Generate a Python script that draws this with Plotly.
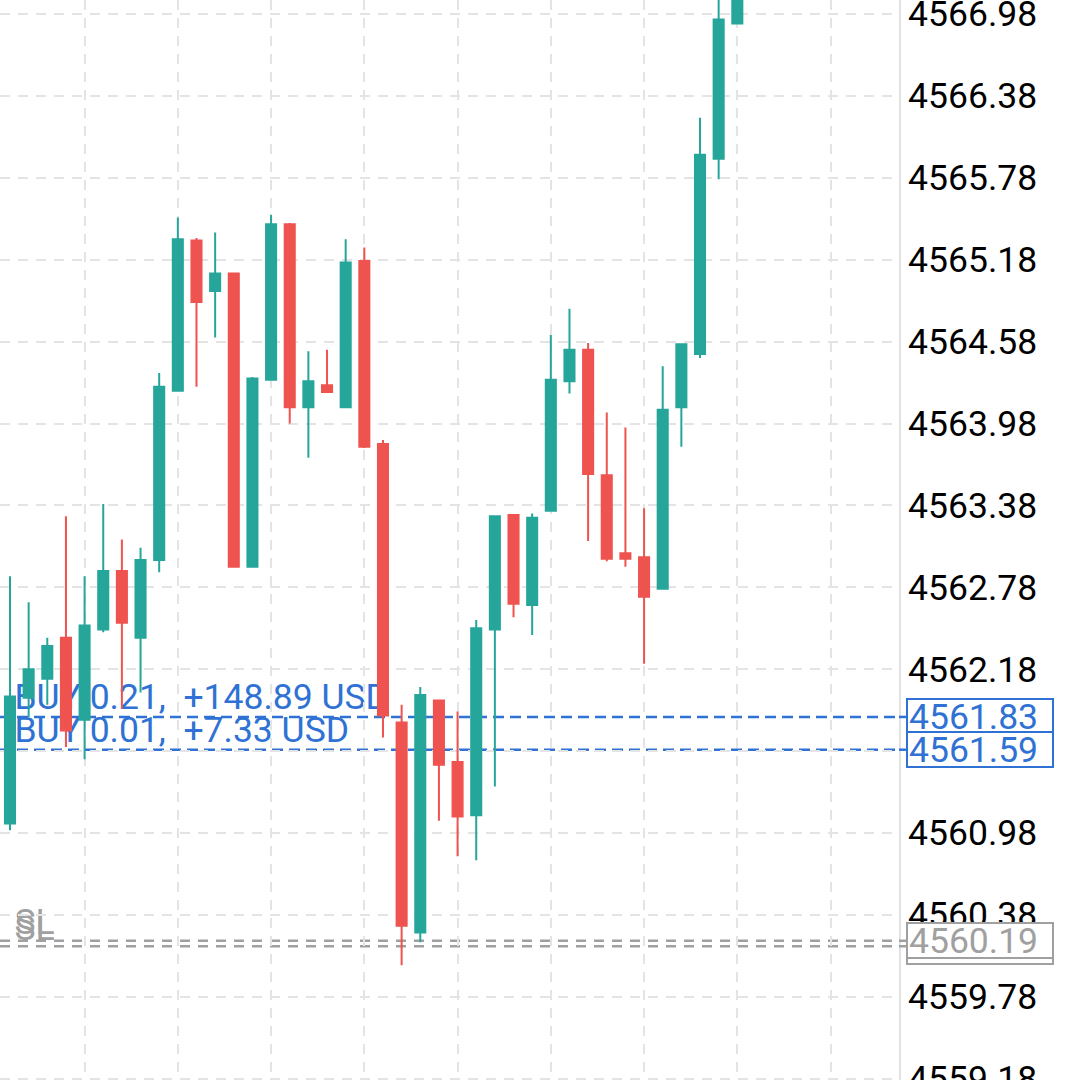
import plotly.graph_objects as go

# ---- data ----
candle_index = list(range(40))
opens = [4561.05, 4561.97, 4562.11, 4562.41, 4561.81, 4562.47, 4562.90, 4562.41, 4562.98, 4564.22,
         4565.32, 4564.95, 4565.08, 4562.93, 4564.30, 4565.44, 4564.10, 4564.26, 4564.10, 4565.17,
         4563.83, 4561.79, 4560.25, 4561.95, 4561.50, 4561.11, 4562.47, 4563.31, 4562.65, 4563.34,
         4564.29, 4564.52, 4563.60, 4563.03, 4563.00, 4562.77, 4564.10, 4564.49, 4565.92, 4566.91]
highs = [4562.86, 4562.67, 4562.41, 4563.30, 4562.86, 4563.39, 4563.13, 4563.07, 4564.35, 4565.49,
         4565.34, 4565.38, 4565.08, 4564.32, 4565.51, 4565.45, 4564.51, 4564.52, 4565.33, 4565.27,
         4563.86, 4561.92, 4562.05, 4561.95, 4561.87, 4562.54, 4563.30, 4563.31, 4563.32, 4564.63,
         4564.82, 4564.57, 4564.06, 4563.95, 4563.36, 4564.40, 4564.56, 4566.22, 4567.20, 4567.45]
lows = [4561.00, 4561.83, 4561.92, 4561.61, 4561.52, 4562.45, 4561.89, 4562.01, 4562.89, 4564.22,
        4564.25, 4564.61, 4562.93, 4562.93, 4564.30, 4563.98, 4563.73, 4564.21, 4564.10, 4563.80,
        4561.68, 4560.01, 4560.18, 4561.07, 4560.81, 4560.78, 4561.32, 4562.56, 4562.43, 4563.34,
        4564.20, 4563.12, 4562.97, 4562.93, 4562.22, 4562.77, 4563.81, 4564.46, 4565.77, 4566.91]
closes = [4561.98, 4562.18, 4562.35, 4561.73, 4562.50, 4562.90, 4562.52, 4562.98, 4564.25, 4565.33,
          4564.87, 4565.08, 4562.93, 4564.31, 4565.44, 4564.10, 4564.29, 4564.21, 4565.16, 4563.81,
          4561.84, 4560.30, 4561.99, 4561.48, 4561.10, 4562.48, 4563.30, 4562.66, 4563.29, 4564.30,
          4564.52, 4563.61, 4562.99, 4562.99, 4562.71, 4564.08, 4564.56, 4565.95, 4566.94, 4567.35]

order_prices = [4561.83, 4561.59]
order_labels = ["BUY 0.21,\u00a0 +148.89 USD", "BUY 0.01,\u00a0 +7.33 USD"]
order_tags = ["4561.83", "4561.59"]
sl_prices = [4560.15, 4560.19]
sl_tags = ["4560.15", "4560.19"]

UP = "#26a69a"
DOWN = "#ef5350"
BLUE = "#2f72d4"
GRAY = "#a0a0a0"
GRID = "#e4e4e4"
FONT = "Roboto"
FS = 35.5

fig = go.Figure()
fig.add_trace(go.Candlestick(
    x=candle_index, open=opens, high=highs, low=lows, close=closes,
    increasing=dict(line=dict(color=UP, width=2), fillcolor=UP),
    decreasing=dict(line=dict(color=DOWN, width=2), fillcolor=DOWN),
    whiskerwidth=0, showlegend=False, hoverinfo="skip",
))

shapes = []
annotations = []

# order lines (blue) with text labels drawn beneath the candles
for p, lab in zip(order_prices, order_labels):
    shapes.append(dict(type="line", xref="x domain", x0=0, x1=1, yref="y", y0=p, y1=p,
                       layer="below", line=dict(color=BLUE, width=2.5, dash="11px,6px")))
    shapes.append(dict(type="line", xref="x domain", x0=0.016, x1=1, yref="y", y0=p, y1=p,
                       layer="below", line=dict(color="rgba(0,0,0,0)", width=0),
                       label=dict(text=lab, textposition="start", xanchor="left", yanchor="bottom",
                                  padding=1, font=dict(family=FONT, size=FS, color=BLUE))))
    shapes.append(dict(type="line", xref="paper", x0=1, x1=1.008, yref="y", y0=p, y1=p,
                       line=dict(color=BLUE, width=2.5)))

for p in sl_prices:
    shapes.append(dict(type="line", xref="x domain", x0=0, x1=1, yref="y", y0=p, y1=p,
                       layer="below", line=dict(color=GRAY, width=2.5, dash="10px,8px")))
    shapes.append(dict(type="line", xref="x domain", x0=0.016, x1=1, yref="y", y0=p, y1=p,
                       layer="below", line=dict(color="rgba(0,0,0,0)", width=0),
                       label=dict(text="SL", textposition="start", xanchor="left", yanchor="bottom",
                                  padding=0, font=dict(family=FONT, size=FS, color=GRAY))))
    shapes.append(dict(type="line", xref="paper", x0=1, x1=1.008, yref="y", y0=p, y1=p,
                       line=dict(color=GRAY, width=2.5)))

for p, t in zip(order_prices, order_tags):
    annotations.append(dict(xref="paper", x=1.0078, xanchor="left", yref="y", y=p, yanchor="middle",
                            text=t, showarrow=False, align="left", width=142, height=31,
                            bgcolor="white", bordercolor=BLUE, borderwidth=2, borderpad=1,
                            font=dict(family=FONT, size=FS, color=BLUE)))
for p, t in zip(sl_prices, sl_tags):
    annotations.append(dict(xref="paper", x=1.0078, xanchor="left", yref="y", y=p, yanchor="middle",
                            text=t, showarrow=False, align="left", width=142, height=31,
                            bgcolor="white", bordercolor=GRAY, borderwidth=2, borderpad=1,
                            font=dict(family=FONT, size=FS, color=GRAY)))

fig.update_layout(
    width=1080, height=1080,
    margin=dict(l=0, r=181, t=0, b=0, pad=0, autoexpand=False),
    paper_bgcolor="white", plot_bgcolor="white",
    boxgap=0.46, boxgroupgap=0,
    shapes=shapes, annotations=annotations,
    showlegend=False,
    xaxis=dict(range=[-0.536, 47.67], showticklabels=False, tick0=4, dtick=5,
               showgrid=True, gridcolor=GRID, gridwidth=2, griddash="10px,8px",
               zeroline=False, showline=False, ticks="", rangeslider=dict(visible=False),
               fixedrange=True, automargin=False),
    yaxis=dict(side="right", range=[4559.17, 4567.083], tick0=4559.18, dtick=0.6,
               tickformat=".2f", showgrid=True, gridcolor=GRID, gridwidth=2, griddash="10px,8px",
               zeroline=False, showline=True, linecolor="#e3e3e3", linewidth=2,
               ticks="", ticklabelstandoff=0, ticklabeloverflow="allow", automargin=False,
               tickfont=dict(family=FONT, size=FS, color="#000000"), fixedrange=True),
)

fig.write_html("out.html")
